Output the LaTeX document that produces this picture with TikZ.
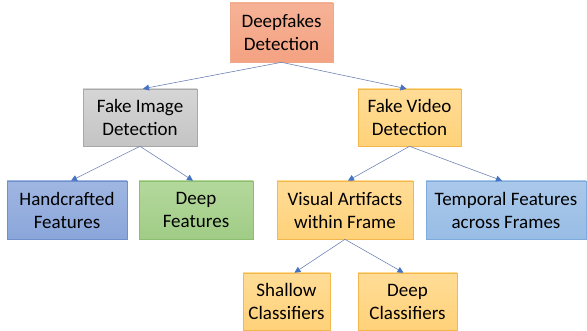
\documentclass[tikz,border=0pt]{standalone}
\usepackage{fontspec}
\setmainfont{Carlito}
\usetikzlibrary{arrows.meta}
\definecolor{linec}{HTML}{7084B4}
\definecolor{tipc}{HTML}{4472C4}
\begin{document}
\begin{tikzpicture}[x=1pt,y=-1pt,
  box/.style={draw, line width=0.6pt, align=center, inner sep=0pt, text=black,
    font=\fontsize{19}{23}\selectfont},
  salmon/.style={box, draw=salmonB, top color=salmonT, bottom color=salmonF},
  grayb/.style={box, draw=grayB, top color=grayT, bottom color=grayF},
  orangeb/.style={box, draw=orB, top color=orT, bottom color=orF},
  blueb/.style={box, draw=blB, top color=blT, bottom color=blF},
  greenb/.style={box, draw=grB, top color=grT, bottom color=grF},
  skyb/.style={box, draw=skB, top color=skT, bottom color=skF},
  conn/.style={draw=linec, line width=0.6pt, -{Triangle[length=6pt,width=6pt,color=tipc]}}
]
\definecolor{salmonT}{HTML}{F6B296}\definecolor{salmonF}{HTML}{F4A282}\definecolor{salmonB}{HTML}{F0A88A}
\definecolor{grayT}{HTML}{D6D6D6}\definecolor{grayF}{HTML}{C4C4C4}\definecolor{grayB}{HTML}{A8A8A8}
\definecolor{orT}{HTML}{FFDC96}\definecolor{orF}{HTML}{FFD27A}\definecolor{orB}{HTML}{F2B84E}
\definecolor{blT}{HTML}{A0B6E2}\definecolor{blF}{HTML}{8AA6DA}\definecolor{blB}{HTML}{7090CC}
\definecolor{grT}{HTML}{B4D89C}\definecolor{grF}{HTML}{A0CC86}\definecolor{grB}{HTML}{8CBE70}
\definecolor{skT}{HTML}{AAC8EA}\definecolor{skF}{HTML}{98BDE5}\definecolor{skB}{HTML}{7EAADC}
\useasboundingbox (0,0) rectangle (587,331);
\node[salmon, minimum width=103pt, minimum height=59pt] (top) at (281.5,32.5) {Deepfakes\\Detection};
\node[grayb, minimum width=114pt, minimum height=57pt] (img) at (140,117.5) {Fake Image\\Detection};
\node[orangeb, minimum width=103pt, minimum height=57pt] (vid) at (409.5,117.5) {Fake Video\\Detection};
\node[blueb, minimum width=120pt, minimum height=58pt] (hand) at (67,210) {Handcrafted\\Features};
\node[greenb, minimum width=114pt, minimum height=58pt] (deepf) at (196,210) {Deep\\Features};
\node[orangeb, minimum width=136pt, minimum height=58pt] (vis) at (345,210) {Visual Artifacts\\within Frame};
\node[skyb, minimum width=160pt, minimum height=58pt] (temp) at (506,210) {Temporal Features\\across Frames};
\node[orangeb, minimum width=87pt, minimum height=57pt] (shal) at (286.5,301.5) {Shallow\\Classifiers};
\node[orangeb, minimum width=99pt, minimum height=57pt] (deepc) at (407.5,301.5) {Deep\\Classifiers};
\draw[conn] (top.south) -- ([xshift=3]img.north);
\draw[conn] (top.south) -- ([xshift=-3]vid.north);
\draw[conn] (img.south) -- ([xshift=4]hand.north);
\draw[conn] (img.south) -- ([xshift=-3]deepf.north);
\draw[conn] (vid.south) -- ([xshift=3]vis.north);
\draw[conn] (vid.south) -- ([xshift=-4]temp.north);
\draw[conn] (vis.south) -- ([xshift=8]shal.north);
\draw[conn] (vis.south) -- ([xshift=-4]deepc.north);
\end{tikzpicture}
\end{document}
